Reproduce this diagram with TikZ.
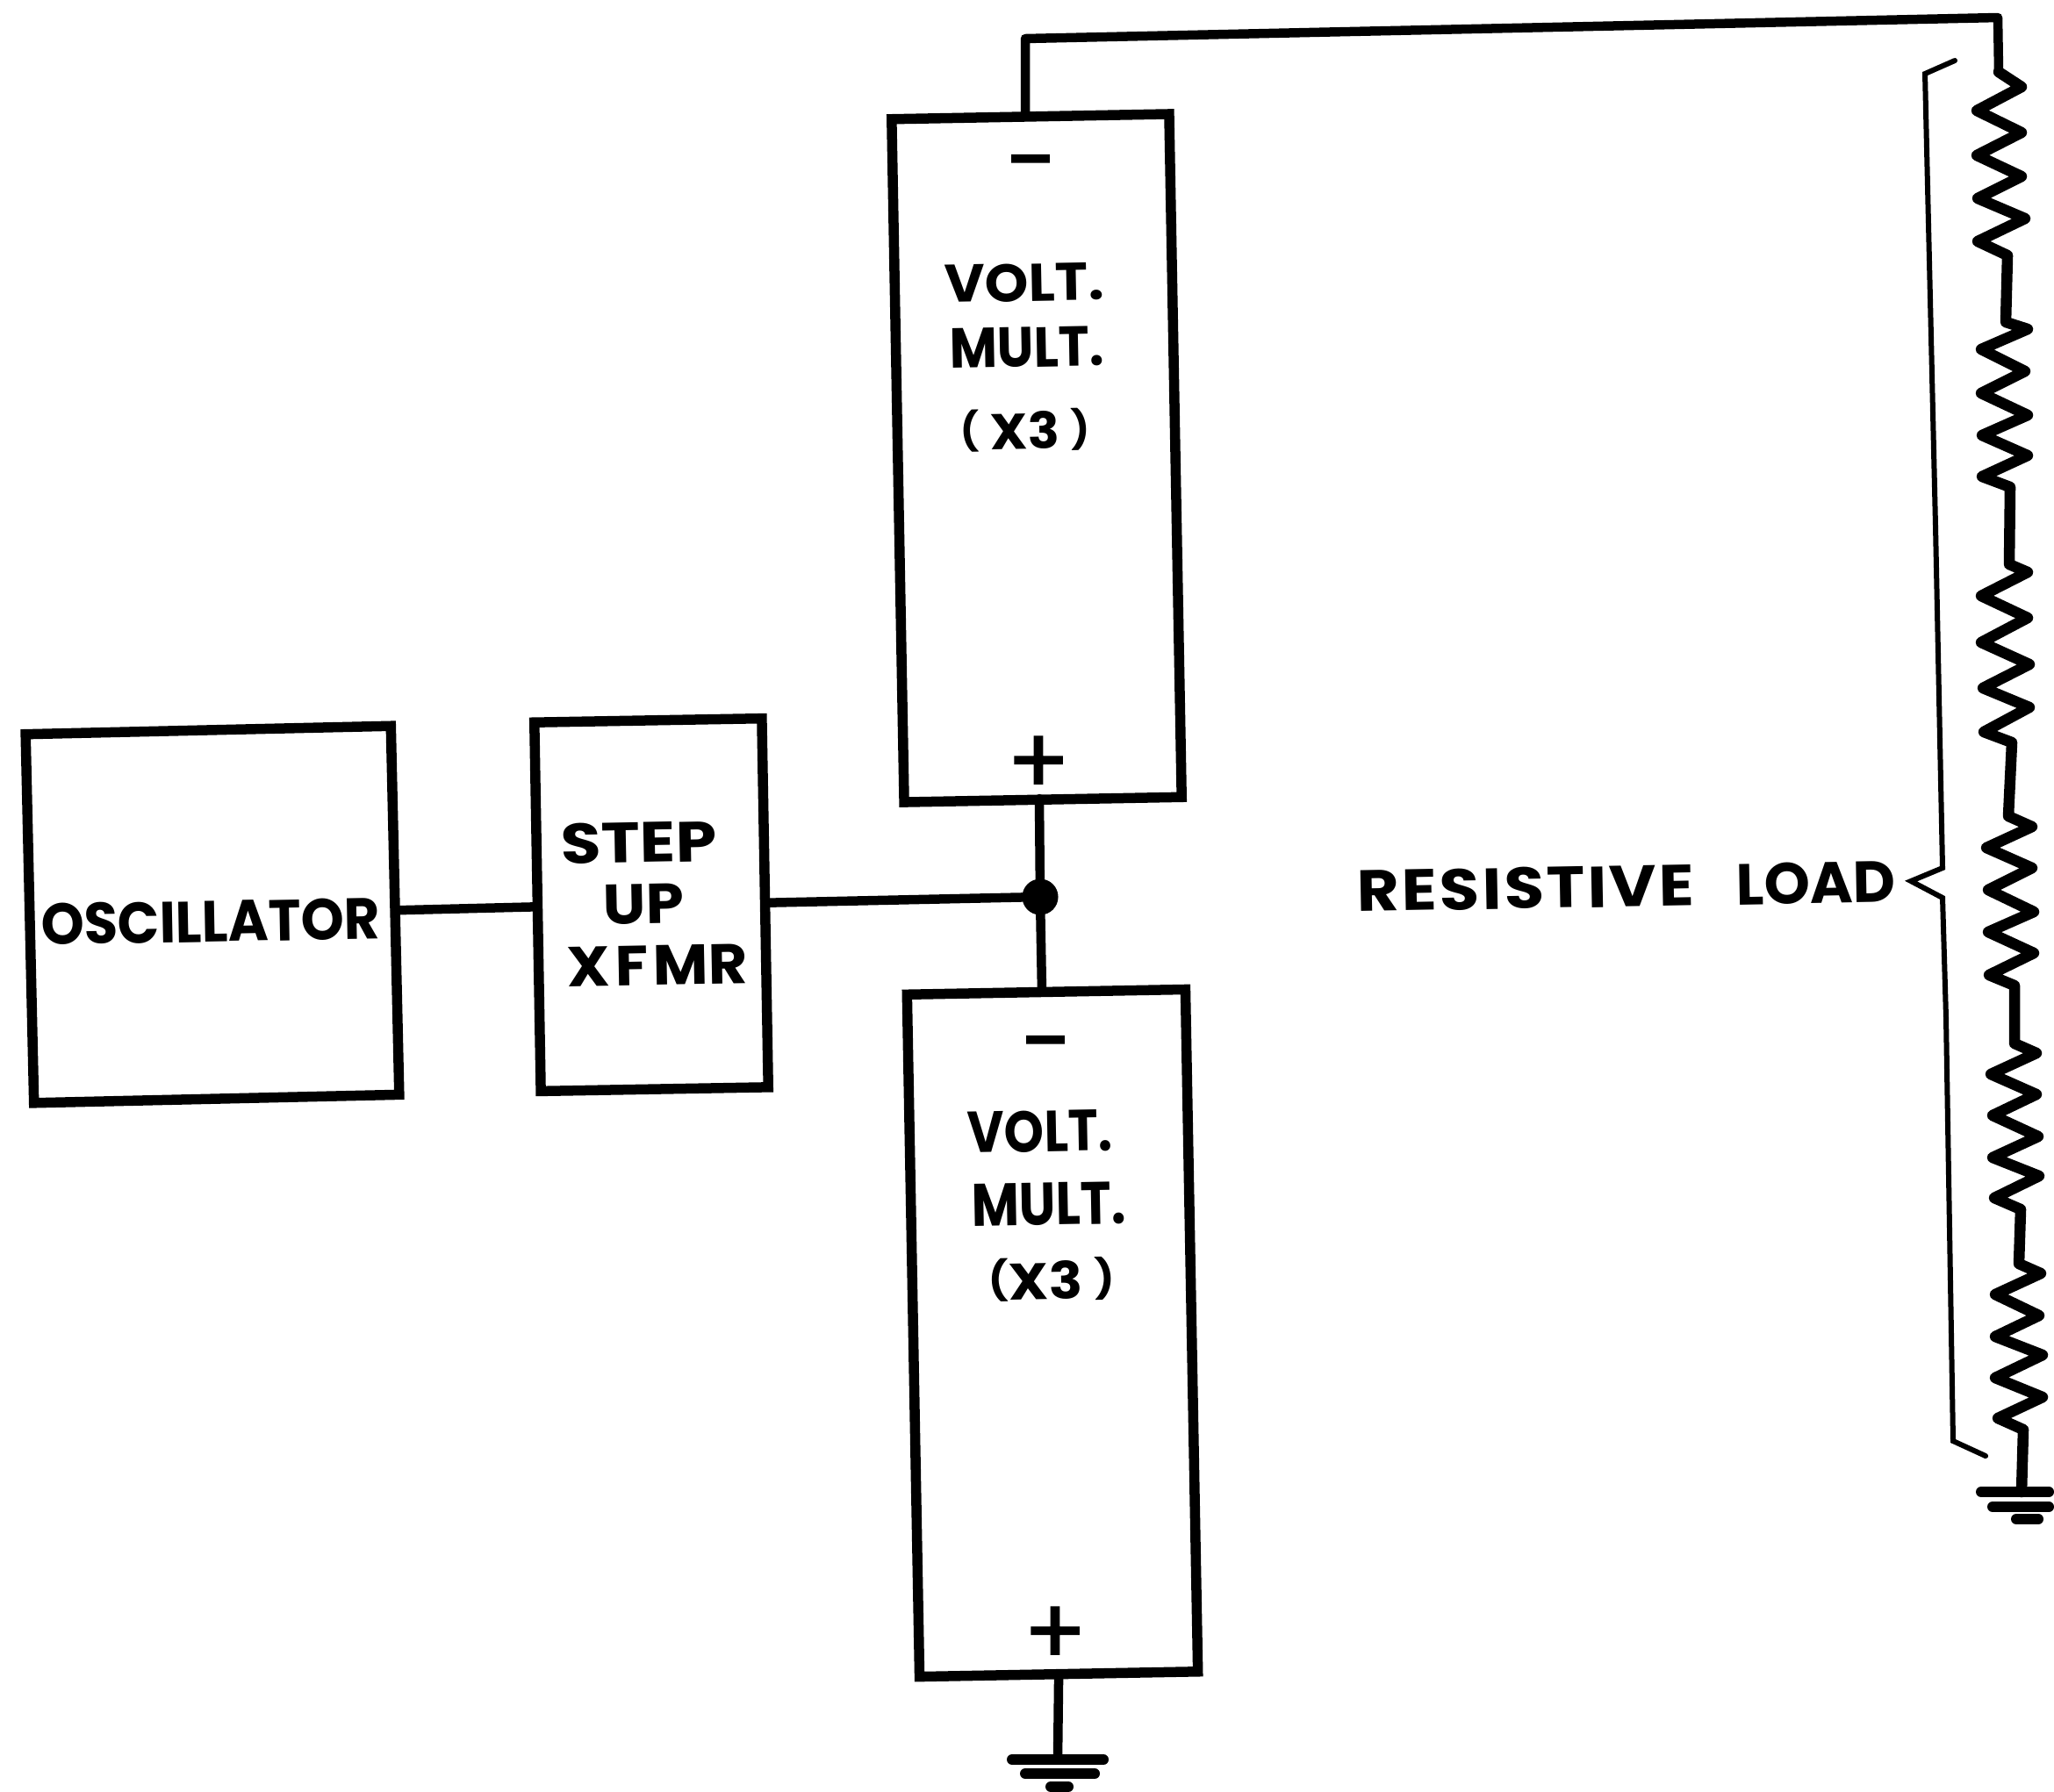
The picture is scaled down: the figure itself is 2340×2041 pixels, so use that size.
\documentclass[tikz,border=0pt]{standalone}
\usepackage{fontspec}
\usepackage{graphicx}
\newfontfamily\labfont{Poppins}[BoldFont={Poppins Bold}]
\newfontfamily\polfont{Poppins}[FakeBold=1.6]
\newcommand{\fitlabel}[3]{\resizebox{#1}{#2}{\labfont\bfseries #3}}
\newcommand{\lparen}{\raisebox{0.12em}{\scalebox{0.75}{(}}}
\newcommand{\rparen}{\raisebox{0.12em}{\scalebox{0.75}{)}}}
\tikzset{
  wire/.style={line width=0.105cm,line join=round,line cap=round,black},
  zigzag/.style={line width=0.125cm,line join=round,line cap=round,black},
  blockbox/.style={draw=black,line width=0.115cm,rectangle,inner sep=0pt,outer sep=0pt,line join=miter,fill=none},
  brace/.style={line width=0.06cm,line join=miter,line cap=round,black},
  gndbar/.style={line width=0.12cm,line cap=round,black},
  label/.style={inner sep=0pt,outer sep=0pt,black,rotate=1.05,align=center},
  polarity/.style={inner sep=0pt,outer sep=0pt,black,font=\polfont\fontsize{30}{30}\selectfont},
  junction/.style={circle,fill=black,draw=none,minimum size=0.41cm,inner sep=0pt,outer sep=0pt}
}
\begin{document}
\begin{tikzpicture}[x=0.01cm,y=-0.01cm]
\useasboundingbox (0,0) rectangle (2340,2041);
% Blocks
\node[blockbox,minimum width=4.16cm,minimum height=4.2cm,rotate=1.3] (osc) at (242,1042) {};
\node[blockbox,minimum width=2.59cm,minimum height=4.2cm,rotate=1.0] (xfmr) at (742,1031) {};
\node[blockbox,minimum width=3.16cm,minimum height=7.78cm,rotate=1.05] (vma) at (1181,522) {};
\node[blockbox,minimum width=3.17cm,minimum height=7.77cm,rotate=1.05] (vmb) at (1199,1519) {};
% Texts
\node[label] (toscillator) at (240,1050) {\fitlabel{3.86cm}{0.47cm}{OSCILLATOR}};
\node[label] (tstep) at (728,960) {\fitlabel{1.77cm}{0.46cm}{STEP}};
\node[label] (tup) at (733,1030) {\fitlabel{0.92cm}{0.45cm}{UP}};
\node[label] (txfmr) at (749,1100) {\fitlabel{2.05cm}{0.45cm}{X\kern0.08em F\kern0.08em MR}};
\node[label] (tvolta) at (1167,322) {\fitlabel{1.81cm}{0.43cm}{VOLT.}};
\node[label] (tmulta) at (1170,396) {\fitlabel{1.76cm}{0.45cm}{MULT.}};
\node[label] (tx3a) at (1168,490) {\fitlabel{1.47cm}{0.46cm}{\lparen\ X3\ \rparen}};
\node[label] (tvoltb) at (1185,1289) {\fitlabel{1.65cm}{0.47cm}{VOLT.}};
\node[label] (tmultb) at (1195,1372) {\fitlabel{1.76cm}{0.48cm}{MULT.}};
\node[label] (tx3b) at (1198,1458) {\fitlabel{1.43cm}{0.47cm}{\lparen X3\ \rparen}};
\node[label] (tload) at (1853,1010) {\fitlabel{6.13cm}{0.47cm}{{\addfontfeature{LetterSpace=4}RESISTIVE}\hspace{0.65em}\scalebox{0.9}[1]{LOAD}}};
\node[polarity] (minusa) at (1174,198) {−};
\node[polarity] (plusa) at (1183,872) {+};
\node[polarity] (minusb) at (1191,1202) {−};
\node[polarity] (plusb) at (1202,1864) {+};
% Junction and connectors
\node[junction] (dot) at (1185,1022) {};
\coordinate (vmaTop) at (1168,133);
\coordinate (vmaBot) at (1184,910);
\coordinate (vmbTop) at (1187,1130);
\coordinate (topL) at (1168,44);
\coordinate (topR) at (2276,20);
\coordinate (rStart) at (2277,82);
\draw[wire] (osc.east) -- (xfmr.west);
\draw[wire] (xfmr.east) -- (dot);
\draw[wire] (vmaBot) -- (dot);
\draw[wire] (dot) -- (vmbTop);
\draw[wire] (vmaTop) -- (topL) -- (topR) -- (rStart);
\draw[zigzag] (rStart)
  % resistor 1
  -- (2303,99) -- (2252,126) -- (2303,151) -- (2252,177) -- (2303,201) -- (2253,226) -- (2307,249) -- (2253,275) -- (2287,291)
  -- (2285,367)
  % resistor 2
  -- (2310,375) -- (2257,398) -- (2307,423) -- (2257,448) -- (2310,473) -- (2258,496) -- (2310,519) -- (2258,543) -- (2290,555)
  -- (2289,643)
  % resistor 3
  -- (2310,652) -- (2257,679) -- (2310,704) -- (2257,732) -- (2312,757) -- (2259,784) -- (2312,806) -- (2260,834) -- (2292,846)
  -- (2288,930)
  % resistor 4
  -- (2315,942) -- (2263,966) -- (2315,989) -- (2265,1014) -- (2317,1039) -- (2265,1062) -- (2317,1086) -- (2266,1111) -- (2295,1123)
  -- (2295,1189)
  % resistor 5
  -- (2320,1200) -- (2268,1224) -- (2320,1247) -- (2270,1271) -- (2322,1295) -- (2270,1319) -- (2323,1340) -- (2272,1365) -- (2302,1378)
  -- (2300,1440)
  % resistor 6
  -- (2325,1451) -- (2273,1475) -- (2323,1499) -- (2273,1523) -- (2327,1544) -- (2273,1570) -- (2327,1592) -- (2276,1616) -- (2305,1629)
  -- (2303,1700);
% Ground under the resistive load
\draw[gndbar] (2257,1700) -- (2334,1700);
\draw[gndbar] (2270,1717) -- (2334,1717);
\draw[gndbar] (2297,1731) -- (2322,1731);
% Ground under the lower multiplier
\coordinate (gndb) at (1205,2005);
\draw[wire] (vmb.south) -- (gndb);
\draw[gndbar] (1153,2005) -- (1257,2005);
\draw[gndbar] (1168,2021) -- (1247,2021);
\draw[gndbar] (1197,2036) -- (1217,2036);
% Brace
\draw[brace] (2227,69) -- (2193,84) -- (2205,600) -- (2213,989) -- (2177,1004) -- (2213,1023) -- (2217,1160) -- (2225,1642) -- (2262,1659);
\end{tikzpicture}
\end{document}
